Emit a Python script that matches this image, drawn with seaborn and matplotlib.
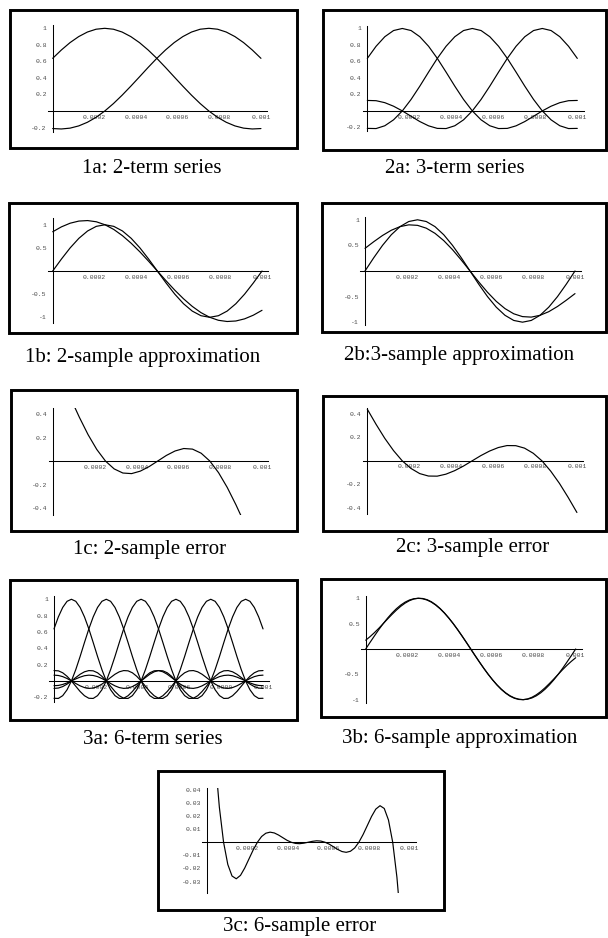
import matplotlib
matplotlib.use("Agg")
import matplotlib.pyplot as plt
from matplotlib.patches import Rectangle
from matplotlib.ticker import FixedLocator, MultipleLocator
import seaborn as sns

# ---------------------------------------------------------------------------
# Sample times (microseconds) for the 25-point and 49-point curves
T25_US = [0, 41.7, 83.3, 125, 166.7, 208.3, 250, 291.7, 333.3, 375, 416.7, 458.3,
          500, 541.7, 583.3, 625, 666.7, 708.3, 750, 791.7, 833.3, 875, 916.7,
          958.3, 1000]
T49_US = [0, 20.8, 41.7, 62.5, 83.3, 104.2, 125, 145.8, 166.7, 187.5, 208.3, 229.2,
          250, 270.8, 291.7, 312.5, 333.3, 354.2, 375, 395.8, 416.7, 437.5, 458.3,
          479.2, 500, 520.8, 541.7, 562.5, 583.3, 604.2, 625, 645.8, 666.7, 687.5,
          708.3, 729.2, 750, 770.8, 791.7, 812.5, 833.3, 854.2, 875, 895.8, 916.7,
          937.5, 958.3, 979.2, 1000]

# 2-term series (1a)
TERM2_A = [0.637, 0.738, 0.827, 0.900, 0.955, 0.989, 1.000, 0.989, 0.955, 0.900, 0.827,
           0.738, 0.637, 0.527, 0.413, 0.300, 0.191, 0.090, 0.000, -0.076, -0.136,
           -0.180, -0.207, -0.217, -0.212]
TERM2_B = [-0.212, -0.217, -0.207, -0.180, -0.136, -0.076, 0.000, 0.090, 0.191, 0.300,
           0.413, 0.527, 0.637, 0.738, 0.827, 0.900, 0.955, 0.989, 1.000, 0.989, 0.955,
           0.900, 0.827, 0.738, 0.637]

# 3-term series (2a)
TERM3_A = [0.637, 0.784, 0.900, 0.975, 1.000, 0.975, 0.900, 0.784, 0.637, 0.471, 0.300,
           0.139, 0.000, -0.108, -0.180, -0.214, -0.212, -0.181, -0.129, -0.065, 0.000,
           0.057, 0.100, 0.124, 0.127]
TERM3_B = [-0.212, -0.214, -0.180, -0.108, 0.000, 0.139, 0.300, 0.471, 0.637, 0.784,
           0.900, 0.975, 1.000, 0.975, 0.900, 0.784, 0.637, 0.471, 0.300, 0.139, 0.000,
           -0.108, -0.180, -0.214, -0.212]
TERM3_C = [0.127, 0.124, 0.100, 0.057, 0.000, -0.065, -0.129, -0.181, -0.212, -0.214,
           -0.180, -0.108, 0.000, 0.139, 0.300, 0.471, 0.637, 0.784, 0.900, 0.975, 1.000,
           0.975, 0.900, 0.784, 0.637]

# true 1 kHz sine on the 25-point grid
SINE_25 = [0.000, 0.259, 0.500, 0.707, 0.866, 0.966, 1.000, 0.966, 0.866, 0.707, 0.500,
           0.259, 0.000, -0.259, -0.500, -0.707, -0.866, -0.966, -1.000, -0.966, -0.866,
           -0.707, -0.500, -0.259, 0.000]

# 2-sample reconstruction and its error (1b, 1c)
APPROX2 = [0.849, 0.955, 1.034, 1.080, 1.091, 1.065, 1.000, 0.899, 0.764, 0.600, 0.414,
           0.211, 0.000, -0.211, -0.414, -0.600, -0.764, -0.899, -1.000, -1.065, -1.091,
           -1.080, -1.034, -0.955, -0.849]
ERR2 = [0.849, 0.696, 0.534, 0.373, 0.225, 0.099, 0.000, -0.067, -0.102, -0.107, -0.086,
        -0.048, 0.000, 0.048, 0.086, 0.107, 0.102, 0.067, 0.000, -0.099, -0.225, -0.373,
        -0.534, -0.696, -0.849]

# 3-sample reconstruction and its error (2b, 2c)
APPROX3 = [0.442, 0.572, 0.693, 0.795, 0.866, 0.901, 0.891, 0.836, 0.735, 0.593, 0.416,
           0.214, 0.000, -0.214, -0.416, -0.593, -0.735, -0.836, -0.891, -0.901, -0.866,
           -0.795, -0.693, -0.572, -0.442]
ERR3 = [0.442, 0.313, 0.193, 0.088, 0.000, -0.065, -0.109, -0.130, -0.131, -0.114, -0.084,
        -0.045, 0.000, 0.045, 0.084, 0.114, 0.131, 0.130, 0.109, 0.065, 0.000, -0.088,
        -0.193, -0.313, -0.442]

# 6-term series (3a)
TERM6_A = [0.637, 0.784, 0.900, 0.975, 1.000, 0.975, 0.900, 0.784, 0.637, 0.471, 0.300,
           0.139, 0.000, -0.108, -0.180, -0.214, -0.212, -0.181, -0.129, -0.065, 0.000,
           0.057, 0.100, 0.124, 0.127, 0.112, 0.082, 0.042, 0.000, -0.039, -0.069, -0.087,
           -0.091, -0.081, -0.060, -0.031, 0.000, 0.030, 0.053, 0.067, 0.071, 0.064,
           0.047, 0.025, 0.000, -0.024, -0.043, -0.055, -0.058]
TERM6_B = [-0.212, -0.214, -0.180, -0.108, 0.000, 0.139, 0.300, 0.471, 0.637, 0.784,
           0.900, 0.975, 1.000, 0.975, 0.900, 0.784, 0.637, 0.471, 0.300, 0.139, 0.000,
           -0.108, -0.180, -0.214, -0.212, -0.181, -0.129, -0.065, 0.000, 0.057, 0.100,
           0.124, 0.127, 0.112, 0.082, 0.042, 0.000, -0.039, -0.069, -0.087, -0.091,
           -0.081, -0.060, -0.031, 0.000, 0.030, 0.053, 0.067, 0.071]
TERM6_C = [0.127, 0.124, 0.100, 0.057, 0.000, -0.065, -0.129, -0.181, -0.212, -0.214,
           -0.180, -0.108, 0.000, 0.139, 0.300, 0.471, 0.637, 0.784, 0.900, 0.975, 1.000,
           0.975, 0.900, 0.784, 0.637, 0.471, 0.300, 0.139, 0.000, -0.108, -0.180,
           -0.214, -0.212, -0.181, -0.129, -0.065, 0.000, 0.057, 0.100, 0.124, 0.127,
           0.112, 0.082, 0.042, 0.000, -0.039, -0.069, -0.087, -0.091]
TERM6_D = [-0.091, -0.087, -0.069, -0.039, 0.000, 0.042, 0.082, 0.112, 0.127, 0.124,
           0.100, 0.057, 0.000, -0.065, -0.129, -0.181, -0.212, -0.214, -0.180, -0.108,
           0.000, 0.139, 0.300, 0.471, 0.637, 0.784, 0.900, 0.975, 1.000, 0.975, 0.900,
           0.784, 0.637, 0.471, 0.300, 0.139, 0.000, -0.108, -0.180, -0.214, -0.212,
           -0.181, -0.129, -0.065, 0.000, 0.057, 0.100, 0.124, 0.127]
TERM6_E = [0.071, 0.067, 0.053, 0.030, 0.000, -0.031, -0.060, -0.081, -0.091, -0.087,
           -0.069, -0.039, 0.000, 0.042, 0.082, 0.112, 0.127, 0.124, 0.100, 0.057, 0.000,
           -0.065, -0.129, -0.181, -0.212, -0.214, -0.180, -0.108, 0.000, 0.139, 0.300,
           0.471, 0.637, 0.784, 0.900, 0.975, 1.000, 0.975, 0.900, 0.784, 0.637, 0.471,
           0.300, 0.139, 0.000, -0.108, -0.180, -0.214, -0.212]
TERM6_F = [-0.058, -0.055, -0.043, -0.024, 0.000, 0.025, 0.047, 0.064, 0.071, 0.067,
           0.053, 0.030, 0.000, -0.031, -0.060, -0.081, -0.091, -0.087, -0.069, -0.039,
           0.000, 0.042, 0.082, 0.112, 0.127, 0.124, 0.100, 0.057, 0.000, -0.065, -0.129,
           -0.181, -0.212, -0.214, -0.180, -0.108, 0.000, 0.139, 0.300, 0.471, 0.637,
           0.784, 0.900, 0.975, 1.000, 0.975, 0.900, 0.784, 0.637]

# true sine on the 49-point grid, 6-sample reconstruction and its error (3b, 3c)
SINE_49 = [0.000, 0.131, 0.259, 0.383, 0.500, 0.609, 0.707, 0.793, 0.866, 0.924, 0.966,
           0.991, 1.000, 0.991, 0.966, 0.924, 0.866, 0.793, 0.707, 0.609, 0.500, 0.383,
           0.259, 0.131, 0.000, -0.131, -0.259, -0.383, -0.500, -0.609, -0.707, -0.793,
           -0.866, -0.924, -0.966, -0.991, -1.000, -0.991, -0.966, -0.924, -0.866,
           -0.793, -0.707, -0.609, -0.500, -0.383, -0.259, -0.131, 0.000]
APPROX6 = [0.173, 0.244, 0.323, 0.409, 0.500, 0.592, 0.681, 0.765, 0.841, 0.904, 0.953,
           0.986, 1.000, 0.996, 0.973, 0.932, 0.873, 0.799, 0.711, 0.610, 0.500, 0.382,
           0.258, 0.130, 0.000, -0.130, -0.258, -0.382, -0.500, -0.610, -0.711, -0.799,
           -0.873, -0.932, -0.973, -0.996, -1.000, -0.986, -0.953, -0.904, -0.841,
           -0.765, -0.681, -0.592, -0.500, -0.409, -0.323, -0.244, -0.173]
ERR6 = [0.1734, 0.1133, 0.0644, 0.0268, 0.0000, -0.0170, -0.0258, -0.0279, -0.0253,
        -0.0197, -0.0128, -0.0059, 0.0000, 0.0044, 0.0069, 0.0077, 0.0071, 0.0055, 0.0035,
        0.0015, 0.0000, -0.0009, -0.0011, -0.0007, 0.0000, 0.0007, 0.0011, 0.0009,
        0.0000, -0.0015, -0.0035, -0.0055, -0.0071, -0.0077, -0.0069, -0.0044, 0.0000,
        0.0059, 0.0128, 0.0197, 0.0253, 0.0279, 0.0258, 0.0170, 0.0000, -0.0268,
        -0.0644, -0.1133, -0.1734]

# tick values / labels
X_TICKS = [0.0002, 0.0004, 0.0006, 0.0008, 0.001]
X_TICK_LABELS = ["0.0002", "0.0004", "0.0006", "0.0008", "0.001"]
Y_TICKS_TERMS = [-0.2, 0.2, 0.4, 0.6, 0.8, 1.0]
Y_LABELS_TERMS = ["-0.2", "0.2", "0.4", "0.6", "0.8", "1"]
Y_TICKS_APPROX = [-1.0, -0.5, 0.5, 1.0]
Y_LABELS_APPROX = ["-1", "-0.5", "0.5", "1"]
Y_TICKS_ERR = [-0.4, -0.2, 0.2, 0.4]
Y_LABELS_ERR = ["-0.4", "-0.2", "0.2", "0.4"]
Y_TICKS_ERR6 = [-0.03, -0.02, -0.01, 0.01, 0.02, 0.03, 0.04]
Y_LABELS_ERR6 = ["-0.03", "-0.02", "-0.01", "0.01", "0.02", "0.03", "0.04"]

CAPTIONS = ["1a: 2-term series", "2a: 3-term series",
            "1b: 2-sample approximation", "2b:3-sample approximation",
            "1c: 2-sample error", "2c: 3-sample error",
            "3a: 6-term series", "3b: 6-sample approximation",
            "3c: 6-sample error"]

# ---------------------------------------------------------------------------
W, H = 608, 938
sns.set_theme(style="white")
plt.rcParams["font.family"] = ["DejaVu Sans"]

fig = plt.figure(figsize=(W / 100, H / 100), dpi=100)
fig.patch.set_facecolor("white")

T25 = [t * 1e-6 for t in T25_US]
T49 = [t * 1e-6 for t in T49_US]
XLIM = (-0.000022, 0.00103)

# frame (px: left, top, right, bottom), plot area (px), ylim, y ticks, labels,
# minor step, curves, caption (text, x-centre, baseline)
panels = [
    dict(frame=(9, 9, 298, 149), area=(48.1, 25, 267.2, 131.7), ylim=(-0.25, 1.04),
         yt=Y_TICKS_TERMS, yl=Y_LABELS_TERMS, minor=0.05,
         curves=[(T25, TERM2_A), (T25, TERM2_B)], cap=(CAPTIONS[0], 152, 173)),
    dict(frame=(322, 9, 607, 151), area=(362.7, 26, 583.6, 130.7), ylim=(-0.24, 1.03),
         yt=Y_TICKS_TERMS, yl=Y_LABELS_TERMS, minor=0.05,
         curves=[(T25, TERM3_A), (T25, TERM3_B), (T25, TERM3_C)],
         cap=(CAPTIONS[1], 455, 173)),
    dict(frame=(8, 202, 298, 334), area=(48.1, 218.3, 268.3, 323.3), ylim=(-1.13, 1.14),
         yt=Y_TICKS_APPROX, yl=Y_LABELS_APPROX, minor=0.1,
         curves=[(T25, SINE_25), (T25, APPROX2)], cap=(CAPTIONS[2], 143, 361.5)),
    dict(frame=(321, 202, 607, 333), area=(360.4, 216.7, 581.3, 325), ylim=(-1.055, 1.06),
         yt=Y_TICKS_APPROX, yl=Y_LABELS_APPROX, minor=0.1,
         curves=[(T25, SINE_25), (T25, APPROX3)], cap=(CAPTIONS[3], 459, 360)),
    dict(frame=(10, 389, 298, 532), area=(48.7, 408.3, 268.3, 515), ylim=(-0.46, 0.45),
         yt=Y_TICKS_ERR, yl=Y_LABELS_ERR, minor=0.05,
         curves=[(T25, ERR2)], cap=(CAPTIONS[4], 150, 554)),
    dict(frame=(322, 395, 607, 532), area=(362.7, 408.3, 583.2, 514), ylim=(-0.455, 0.45),
         yt=Y_TICKS_ERR, yl=Y_LABELS_ERR, minor=0.05,
         curves=[(T25, ERR3)], cap=(CAPTIONS[5], 473, 552.3)),
    dict(frame=(9, 579, 298, 721), area=(49.4, 596, 269.3, 701.7), ylim=(-0.254, 1.04),
         yt=Y_TICKS_TERMS, yl=Y_LABELS_TERMS, minor=0.05,
         curves=[(T49, c) for c in (TERM6_A, TERM6_B, TERM6_C, TERM6_D, TERM6_E, TERM6_F)],
         cap=(CAPTIONS[6], 153, 744)),
    dict(frame=(320, 578, 607, 718), area=(361.1, 596, 582, 702.7), ylim=(-1.06, 1.045),
         yt=Y_TICKS_APPROX, yl=Y_LABELS_APPROX, minor=0.1,
         curves=[(T49, SINE_49), (T49, APPROX6)], cap=(CAPTIONS[7], 460, 743.3)),
    dict(frame=(157, 770, 445, 911), area=(202.2, 788.3, 415.7, 893.3), ylim=(-0.039, 0.0412),
         yt=Y_TICKS_ERR6, yl=Y_LABELS_ERR6, minor=0.001,
         curves=[(T49, ERR6)], cap=(CAPTIONS[8], 300, 930.5)),
]

TICK_FONT = dict(family=["Liberation Mono", "DejaVu Sans Mono"], size=4.6)
TICK_COLOR = "#4a4a4a"

for p in panels:
    # outer black frame
    fl, ft, fr, fb = p["frame"]
    inset = 1.4
    fig.add_artist(Rectangle(((fl + inset) / W, 1 - (fb - inset) / H),
                             (fr - fl - 2 * inset) / W, (fb - ft - 2 * inset) / H,
                             transform=fig.transFigure, fill=False,
                             edgecolor="black", linewidth=2.1))

    al, at, ar, ab = p["area"]
    ax = fig.add_axes([al / W, 1 - ab / H, (ar - al) / W, (ab - at) / H])
    ax.set_facecolor("none")

    for xs, ys in p["curves"]:
        sns.lineplot(x=xs, y=ys, ax=ax, color="black", linewidth=0.85,
                     sort=False, estimator=None, legend=False)

    ax.set_xlim(*XLIM)
    ax.set_ylim(*p["ylim"])
    ax.set_xlabel("")
    ax.set_ylabel("")

    # axes crossing at the origin
    for side in ("top", "right"):
        ax.spines[side].set_visible(False)
    for side in ("left", "bottom"):
        ax.spines[side].set_position(("data", 0))
        ax.spines[side].set_color("black")
        ax.spines[side].set_linewidth(0.75)

    ax.xaxis.set_major_locator(FixedLocator(X_TICKS))
    ax.xaxis.set_minor_locator(MultipleLocator(0.00005))
    ax.set_xticklabels(X_TICK_LABELS)
    ax.yaxis.set_major_locator(FixedLocator(p["yt"]))
    ax.yaxis.set_minor_locator(MultipleLocator(p["minor"]))
    ax.set_yticklabels(p["yl"])

    ax.tick_params(axis="both", which="major", direction="in", length=2.6, width=0.6,
                   color="black", labelcolor=TICK_COLOR)
    ax.tick_params(axis="both", which="minor", direction="in", length=1.4, width=0.5,
                   color="black")
    ax.tick_params(axis="x", which="major", pad=2.6)
    ax.tick_params(axis="y", which="major", pad=4.2)
    for lab in ax.get_xticklabels() + ax.get_yticklabels():
        lab.set_fontfamily(TICK_FONT["family"])
        lab.set_fontsize(TICK_FONT["size"])
    ax.grid(False)

    text, cx, base = p["cap"]
    fig.text(cx / W, 1 - base / H, text, ha="center", va="baseline",
             fontfamily=["Liberation Serif", "DejaVu Serif"], fontsize=15, color="black")

fig.savefig("out.png", dpi=100, facecolor="white")
